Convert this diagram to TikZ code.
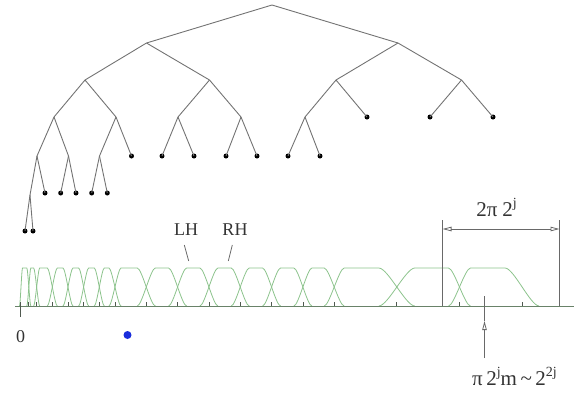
\documentclass[tikz,border=0pt]{standalone}
\usepackage{fontspec}
\setmainfont{Liberation Serif}
\usetikzlibrary{arrows.meta}
\definecolor{treecol}{RGB}{115,115,115}
\definecolor{bumpcol}{RGB}{140,195,140}
\definecolor{axiscol}{RGB}{105,130,105}
\definecolor{tickcol}{RGB}{80,90,80}
\definecolor{dimcol}{RGB}{105,105,105}
\definecolor{bluedot}{RGB}{25,45,220}
\newcommand\mysup[2][14]{\raisebox{0.42em}{\fontsize{#1}{#1}\selectfont #2}}
\tikzset{
  leaf/.style={circle,fill=black,inner sep=0pt,minimum size=5pt},
  inner/.style={inner sep=0pt,minimum size=0pt},
  branch/.style={draw=treecol,line width=0.9pt},
  bump/.style={draw=bumpcol,line width=0.8pt},
  lbl/.style={font=\fontsize{18}{20}\selectfont,inner sep=0pt,text=black!80},
  biglbl/.style={font=\fontsize{21}{22}\selectfont,inner sep=0pt,text=black!80},
  dimline/.style={draw=dimcol,line width=0.8pt},
  opentip/.style={-{Triangle[open,length=9pt,width=4.5pt]}}
}
\begin{document}
\begin{tikzpicture}[x=1pt,y=-1pt]
\useasboundingbox (0,0) rectangle (574,392);
\clip (0,0) rectangle (574,392);
% ---------------- tree ----------------
\node[inner] (r) at (272,5) {};
\node[inner] (a) at (146.5,43) {};
\node[inner] (b) at (398,43) {};
\node[inner] (aa) at (85,80) {};
\node[inner] (ab) at (209.5,80) {};
\node[inner] (ba) at (336,80) {};
\node[inner] (bb) at (461.5,80) {};
\node[inner] (aaa) at (54,117) {};
\node[inner] (aab) at (116,117) {};
\node[inner] (aba) at (178,117) {};
\node[inner] (abb) at (241,117) {};
\node[inner] (baa) at (305,117) {};
\node[leaf] (bab) at (367,117) {};
\node[leaf] (bba) at (430,117) {};
\node[leaf] (bbb) at (493,117) {};
\node[inner] (aaaa) at (37,156) {};
\node[inner] (aaab) at (68.5,156) {};
\node[inner] (aaba) at (99.5,156) {};
\node[leaf] (aabb) at (131.5,156) {};
\node[leaf] (abaa) at (162,156) {};
\node[leaf] (abab) at (194,156) {};
\node[leaf] (abba) at (226,156) {};
\node[leaf] (abbb) at (257,156) {};
\node[leaf] (baaa) at (288,156) {};
\node[leaf] (baab) at (320,156) {};
\node[inner] (aaaaa) at (30,195) {};
\node[leaf] (aaaab) at (45,193) {};
\node[leaf] (aaaba) at (60.7,193) {};
\node[leaf] (aaabb) at (76,193) {};
\node[leaf] (aabaa) at (91.7,193) {};
\node[leaf] (aabab) at (107.3,193) {};
\node[leaf] (aaaaaa) at (25,231) {};
\node[leaf] (aaaaab) at (33,231) {};
\foreach \p/\c in {r/a,r/b,a/aa,a/ab,b/ba,b/bb,aa/aaa,aa/aab,ab/aba,ab/abb,
  ba/baa,ba/bab,bb/bba,bb/bbb,aaa/aaaa,aaa/aaab,aab/aaba,aab/aabb,aba/abaa,aba/abab,
  abb/abba,abb/abbb,baa/baaa,baa/baab,aaaa/aaaaa,aaaa/aaaab,aaab/aaaba,aaab/aaabb,
  aaba/aabaa,aaba/aabab,aaaaa/aaaaaa,aaaaa/aaaaab}
  \draw[branch] (\p.center) -- (\c.center);
% ---------------- bumps ----------------
\foreach \a/\ea/\b/\eb in {
  21/1.5/28.83/2, 28.83/2/36.66/3, 36.66/3/52.32/5, 52.32/5/67.98/5,
  67.98/5/83.64/5, 83.64/5/99.3/5, 99.3/5/114.96/6,
  114.96/6/146.28/9, 146.28/9/177.6/9, 177.6/9/208.92/9,
  208.92/9/240.24/9, 240.24/9/271.56/9, 271.56/9/302.88/9,
  302.88/9/334.2/10, 334.2/10/396.84/18, 396.84/18/459.48/11, 459.48/11/522.12/17}
{
  \draw[bump] ({\a-\ea},306) .. controls ({\a-\ea/2},306) and ({\a+\ea/2},268) .. ({\a+\ea},268)
     -- ({\b-\eb},268) .. controls ({\b-\eb/2},268) and ({\b+\eb/2},306) .. ({\b+\eb},306);
}
\foreach \e in {28.83,36.66,52.32,67.98,83.64,99.3,114.96,146.28,177.6,208.92,
  240.24,271.56,302.88,334.2,396.84,459.48,522.12}
  \draw[tickcol,line width=0.7pt] (\e,306) -- (\e,302);
% axis
\coordinate (axL) at (15,306);
\coordinate (axR) at (574,306);
\draw[axiscol,line width=0.9pt] (axL) -- (axR);
\coordinate (t0a) at (20.7,302);
\coordinate (t0b) at (20.7,317);
\draw[tickcol,line width=1.3pt] (t0a) -- (t0b);
\node[lbl] (zero) at (20.7,337) {0};
% blue dot
\fill[bluedot] (127.5,335) circle (4);
% LH / RH
\node[lbl] (LH) at (186,230) {LH};
\node[lbl] (RH) at (235,230) {RH};
\coordinate (LHs) at (184.3,245);
\coordinate (RHs) at (232.3,245);
\coordinate (LHe) at (188.7,261);
\coordinate (RHe) at (228.3,261);
\draw[dimline] (LHs) -- (LHe);
\draw[dimline] (RHs) -- (RHe);
% dimension 2pi 2^j
\coordinate (d1t) at (442.5,220);
\coordinate (d1b) at (442.5,306);
\coordinate (d2t) at (559.5,220);
\coordinate (d2b) at (559.5,306);
\draw[dimline] (d1t) -- (d1b);
\draw[dimline] (d2t) -- (d2b);
\coordinate (dl) at (442.5,229);
\coordinate (dr) at (559.5,229);
\draw[dimline,{Triangle[open,length=9pt,width=4.5pt]}-{Triangle[open,length=9pt,width=4.5pt]}] (dl) -- (dr);
\node[biglbl,anchor=base] (dimlabel) at (496.5,216) {2π\hspace{5pt}2\mysup{j}};
% arrow to pi 2^j m
\coordinate (pb) at (484.5,358);
\coordinate (pm) at (484.5,321);
\coordinate (pt) at (484.5,296);
\draw[dimline,opentip] (pb) -- (pm);
\draw[dimline] (pm) -- (pt);
\node[biglbl,anchor=base west] (plabel) at (472,385) {π\,2\mysup{j}m\,\textasciitilde\,2\mysup{2j}};
\end{tikzpicture}
\end{document}
